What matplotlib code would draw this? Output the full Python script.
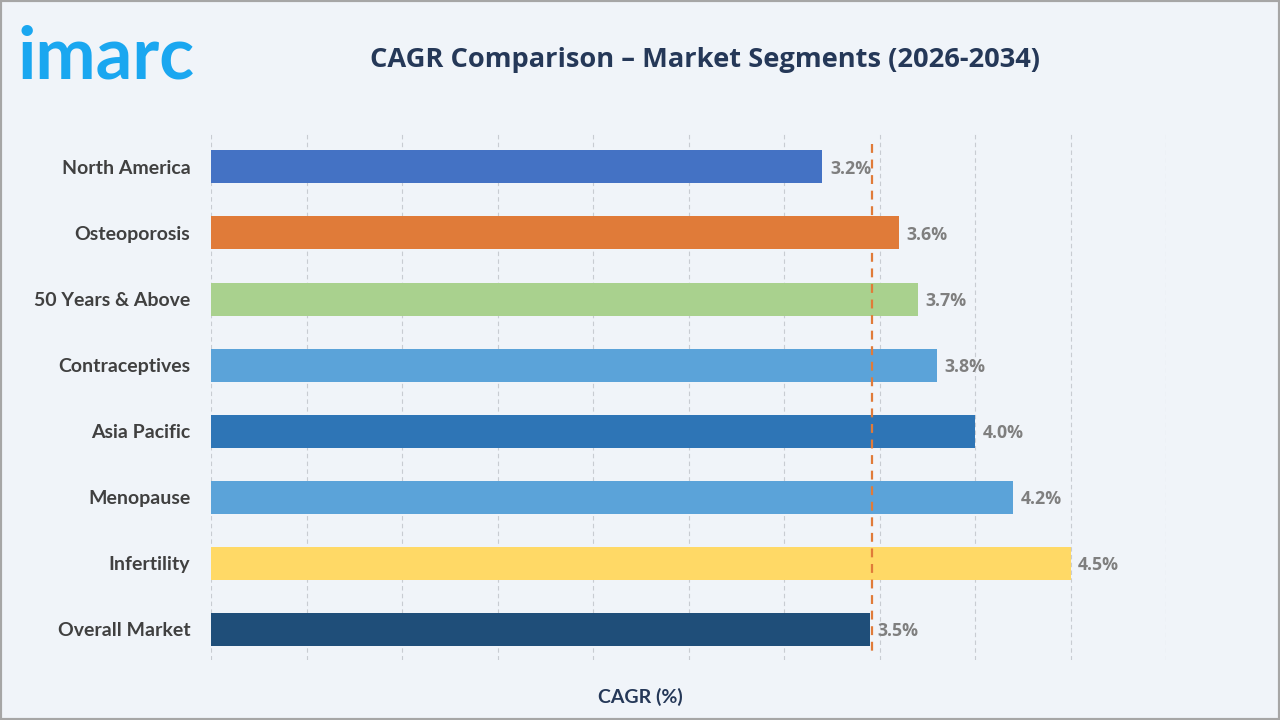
#!/usr/bin/env python

import matplotlib
matplotlib.use("Agg")
import matplotlib.pyplot as plt
from matplotlib.patches import Rectangle

segments = ["North America", "Osteoporosis", "50 Years & Above", "Contraceptives",
            "Asia Pacific", "Menopause", "Infertility", "Overall Market"]
cagr = [3.2, 3.6, 3.7, 3.8, 4.0, 4.2, 4.5, 3.45]
colors = ["#4472C4", "#E07B39", "#A9D18E", "#5BA3D9",
          "#2E75B6", "#5BA3D9", "#FFD966", "#1F4E79"]
overall = 3.46

BG = "#F0F4F9"


def main():
    fig = plt.figure(figsize=(12.8, 7.2), dpi=100, facecolor=BG)
    ax = fig.add_axes([0.165, 0.083, 0.746, 0.731])
    ax.set_facecolor(BG)

    y = list(range(len(segments)))
    ax.barh(y, cagr, height=0.5, color=colors, zorder=3)
    for yi, v in zip(y, cagr):
        ax.text(v + 0.04, yi + 0.03, f"{v:.1f}%", va="center", ha="left",
                fontsize=12.8, fontweight="bold", color="#7F7F7F",
                family="Open Sans", zorder=4)

    ax.plot([overall, overall], [-0.35, 7.35], color="#E07B39", lw=1.6,
            ls=(0, (4, 3)), zorder=4)

    ax.set_xlim(0, 5)
    ax.set_ylim(7.47, -0.5)
    ax.set_xticks([i * 0.5 for i in range(11)])
    ax.set_xticklabels([])
    ax.tick_params(axis="x", length=0)
    ax.tick_params(axis="y", length=0, pad=15)
    ax.set_yticks(y)
    ax.set_yticklabels(segments, fontsize=14, fontweight="bold",
                       color="#404040", family="Lato")
    ax.grid(axis="x", color="#C8CCD2", ls=(0, (4, 3)), lw=0.8, zorder=0)
    for s in ax.spines.values():
        s.set_visible(False)

    fig.text(0.551, 0.916, "CAGR Comparison \u2013 Market Segments (2026-2034)",
             ha="center", va="center", fontsize=19.6, fontweight="bold",
             color="#253858", family="Open Sans")
    fig.text(0.5, 0.032, "CAGR (%)", ha="center", va="center", fontsize=14,
             fontweight="bold", color="#253858", family="Lato")
    fig.text(0.014, 0.92, "imarc", ha="left", va="center", fontsize=52,
             fontweight="bold", color="#1AA7F0", family="Lato")

    fig.patches.append(Rectangle((0, 0), 1, 1, transform=fig.transFigure,
                                 fill=False, ec="#A6A6A6", lw=3))
    fig.savefig("out.png", dpi=100, facecolor=BG)


if __name__ == '__main__':
    main()
